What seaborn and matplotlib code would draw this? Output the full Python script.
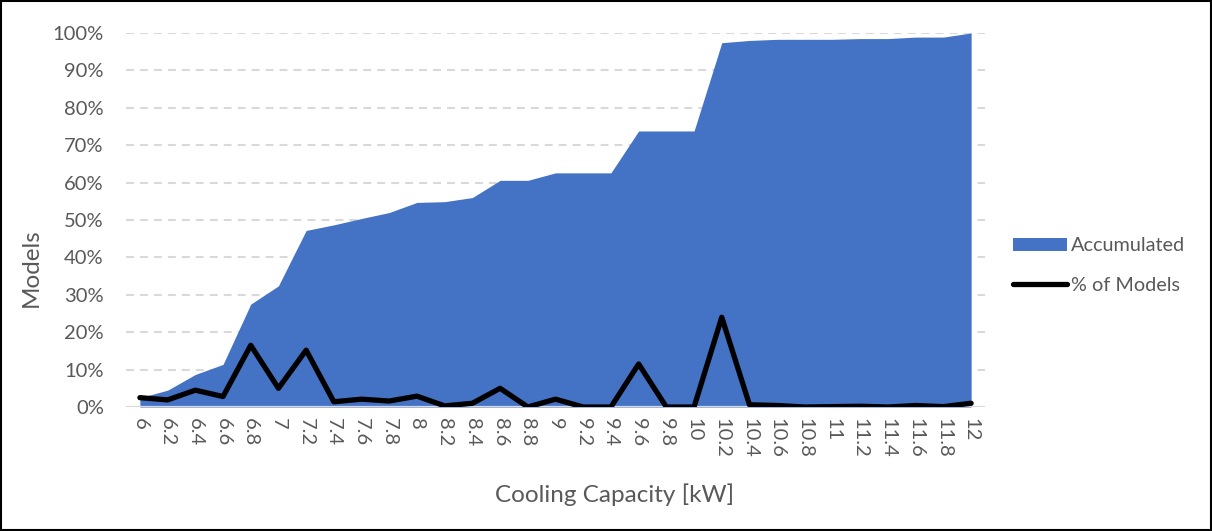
import numpy as np
import matplotlib
matplotlib.use("Agg")
import matplotlib.pyplot as plt
from matplotlib.patches import Rectangle, Patch
from matplotlib.lines import Line2D
from matplotlib.ticker import PercentFormatter
import seaborn as sns

# Cooling capacity classes (kW)
capacity = ["6", "6.2", "6.4", "6.6", "6.8", "7", "7.2", "7.4", "7.6", "7.8",
            "8", "8.2", "8.4", "8.6", "8.8", "9", "9.2", "9.4", "9.6", "9.8",
            "10", "10.2", "10.4", "10.6", "10.8", "11", "11.2", "11.4", "11.6", "11.8", "12"]

# Share of models in each class (%)
pct_models = [2.5, 1.9, 4.5, 2.8, 16.5, 5.0, 15.2, 1.4, 2.1, 1.6,
              2.9, 0.3, 1.0, 5.0, 0.0, 2.1, 0.0, 0.0, 11.5, 0.0,
              0.0, 24.0, 0.6, 0.4, 0.0, 0.1, 0.2, 0.0, 0.4, 0.1, 1.0]

# Accumulated share of models (%)
accumulated = [2.5, 4.5, 8.7, 11.4, 27.5, 32.4, 47.2, 48.7, 50.4, 52.0,
               54.7, 54.9, 56.0, 60.6, 60.6, 62.6, 62.6, 62.6, 73.8, 73.8,
               73.8, 97.4, 98.0, 98.3, 98.3, 98.3, 98.5, 98.5, 98.9, 98.9, 100.0]

sns.set_theme(style="white")
plt.rcParams["font.family"] = ["Lato", "DejaVu Sans"]

TEXT = "#595959"
BLUE = "#4472C4"
GRID = "#D9D9D9"
TICK_SIZE = 14.5
LABEL_SIZE = 17.5

fig = plt.figure(figsize=(12.12, 5.31), dpi=100)
ax = fig.add_axes([0.104, 0.2335, 0.7087, 0.7044])

pos = np.arange(len(capacity))
acc = np.array(accumulated) / 100.0
pct = np.array(pct_models) / 100.0

# dashed horizontal gridlines
for v in np.arange(0.1, 1.01, 0.1):
    ax.axhline(v, color=GRID, lw=1.5, dashes=(3.8, 2.9), zorder=0)

ax.fill_between(pos, 0, acc, color=BLUE, lw=0, zorder=1)
ax.axhline(0, color=GRID, lw=1.6, zorder=1.5)
sns.lineplot(x=pos, y=pct, ax=ax, color="black", lw=3.8, zorder=3,
             solid_capstyle="round", solid_joinstyle="round", legend=False)

ax.set_xlim(-0.5, len(capacity) - 0.5)
ax.set_ylim(0, 1.0)
ax.set_yticks(np.arange(0, 1.01, 0.1))
ax.yaxis.set_major_formatter(PercentFormatter(1.0, decimals=0))
ax.set_xticks(pos)
ax.set_xticklabels(capacity, rotation=-90, va="top", ha="center")

ax.tick_params(axis="y", length=0, pad=16, labelsize=TICK_SIZE, labelcolor=TEXT)
ax.tick_params(axis="x", length=0, pad=8, labelsize=TICK_SIZE, labelcolor=TEXT)
for s in ax.spines.values():
    s.set_visible(False)
ax.grid(False)

ax.set_xlabel("Cooling Capacity [kW]", fontsize=LABEL_SIZE, color=TEXT)
ax.set_ylabel("Models", fontsize=LABEL_SIZE, color=TEXT)
ax.xaxis.set_label_coords(0.569, -0.203)
ax.yaxis.set_label_coords(-0.098, 0.372)

handles = [Patch(facecolor=BLUE, edgecolor="none", label="Accumulated"),
           Line2D([0], [0], color="black", lw=3.8, solid_capstyle="round",
                  label="% of Models")]
fig.legend(handles=handles, loc="center left", bbox_to_anchor=(0.829, 0.5),
           frameon=False, fontsize=14.3, labelcolor=TEXT, handlelength=2.72,
           handleheight=0.65, handletextpad=0.2, labelspacing=1.11,
           borderaxespad=0)

fig.patches.append(Rectangle((0.0012, 0.0025), 0.9976, 0.995, transform=fig.transFigure,
                             fill=False, edgecolor="black", lw=1.5))

fig.savefig("out.png", dpi=100, facecolor="white")
